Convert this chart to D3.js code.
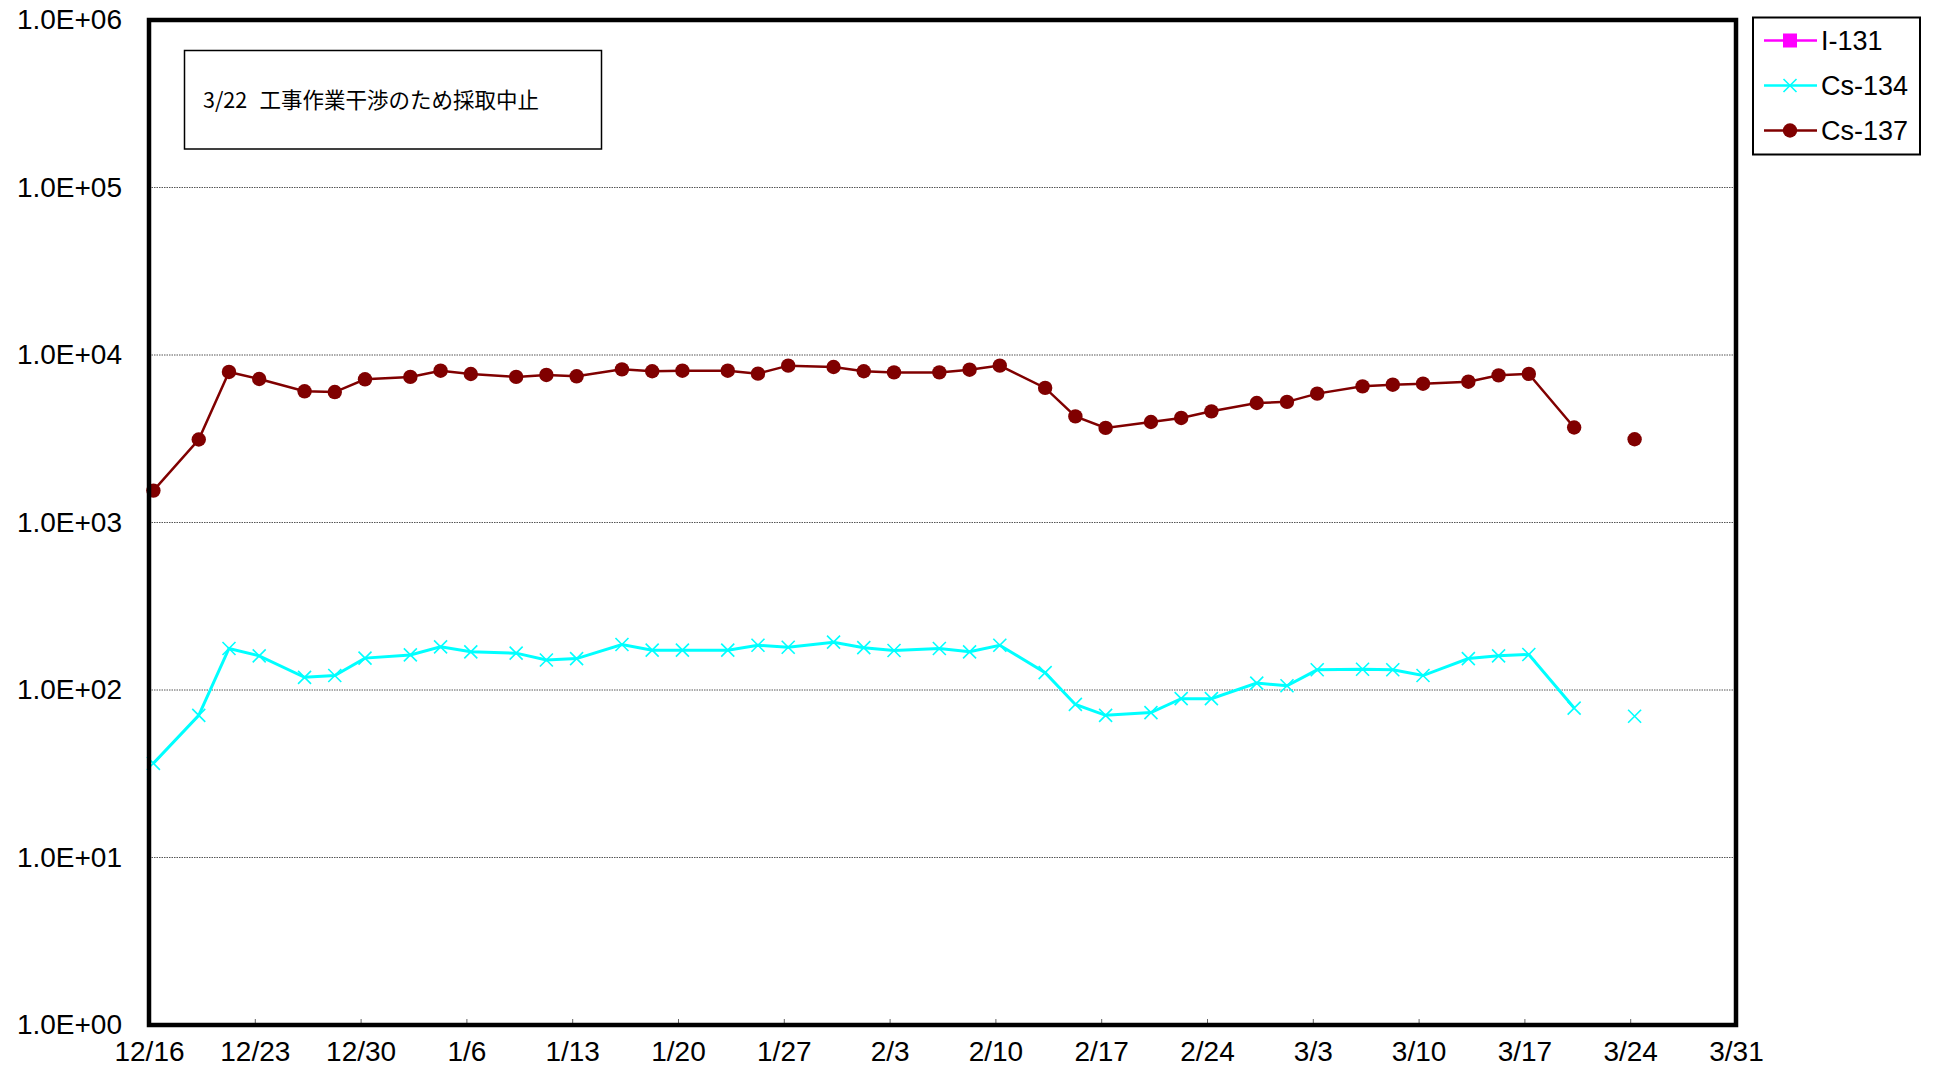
<!DOCTYPE html>
<html><head><meta charset="utf-8">
<script src="https://cdn.jsdelivr.net/npm/d3@7"></script>
<style>body{margin:0;background:#fff}svg{display:block}</style>
</head><body>
<svg id="c" width="1933" height="1081"></svg>
<script>
const sampleDates = ["2012-12-16","2012-12-19","2012-12-21","2012-12-23","2012-12-26","2012-12-28","2012-12-30",
"2013-01-02","2013-01-04","2013-01-06","2013-01-09","2013-01-11","2013-01-13","2013-01-16","2013-01-18","2013-01-20",
"2013-01-23","2013-01-25","2013-01-27","2013-01-30","2013-02-01","2013-02-03","2013-02-06","2013-02-08","2013-02-10",
"2013-02-13","2013-02-15","2013-02-17","2013-02-20","2013-02-22","2013-02-24","2013-02-27","2013-03-01","2013-03-03",
"2013-03-06","2013-03-08","2013-03-10","2013-03-13","2013-03-15","2013-03-17","2013-03-20","2013-03-22","2013-03-24"];
const sampleTime = "07:00";
const i131 = sampleDates.map(() => null); // not detected
const cs134 = [36.5,70.6,177,160,119,122,155,162,181,169,166,151,154,187,173,173,173,185,180,193,179,172,177,169,185,
127,82,70.6,73.3,88.8,88.8,110,106,132,133,132,122,154,160,163,78,null,69.7];
const cs137 = [1550,3130,7920,7190,6070,6010,7160,7400,8060,7700,7400,7600,7460,8210,8000,8060,8060,7740,8640,8480,8000,7870,7870,8170,8640,
6360,4300,3670,3980,4210,4610,5170,5250,5880,6500,6650,6740,6930,7560,7710,3690,null,3140];
const xTickDates = ["2012-12-16","2012-12-23","2012-12-30","2013-01-06","2013-01-13","2013-01-20","2013-01-27","2013-02-03",
"2013-02-10","2013-02-17","2013-02-24","2013-03-03","2013-03-10","2013-03-17","2013-03-24","2013-03-31"];
const yTicks = [1,10,100,1000,10000,100000,1000000];
const yTickLabels = ["1.0E+00","1.0E+01","1.0E+02","1.0E+03","1.0E+04","1.0E+05","1.0E+06"];
const seriesNames = ["I-131","Cs-134","Cs-137"];
const noteDate = "3/22";
const noteText = "工事作業干渉のため採取中止";

const parseDay = d3.timeParse("%Y-%m-%d");
const parseDT = d3.timeParse("%Y-%m-%d %H:%M");
const fmt = d3.timeFormat("%-m/%-d");

const L = 149, R = 1736, T = 20, B = 1025;
const svg = d3.select("#c");
const x = d3.scaleTime().domain([parseDay("2012-12-16"), parseDay("2013-03-31")]).range([L, R]);
const y = d3.scaleLog().domain([1, 1e6]).range([B, T]);

// gridlines
svg.append("g").selectAll("line").data(yTicks.slice(1, -1)).join("line")
  .attr("x1", L).attr("x2", R).attr("y1", d => y(d)).attr("y2", d => y(d))
  .attr("stroke", "#555").attr("stroke-width", 1).attr("stroke-dasharray", "1.5,1");

// y axis labels
const yAx = d3.axisLeft(y).tickValues(yTicks).tickFormat((d, i) => yTickLabels[i]).tickSize(0).tickPadding(27);
const gy = svg.append("g").attr("transform", `translate(${L},0)`).call(yAx);
gy.select(".domain").remove();
gy.selectAll("text").attr("font-family", "Liberation Sans, Arial, sans-serif").attr("font-size", 28).attr("fill", "#000");

// x axis
const xTicks = xTickDates.map(parseDay);
const xAx = d3.axisBottom(x).tickValues(xTicks).tickFormat(fmt).tickSize(-6).tickPadding(26);
const gx = svg.append("g").attr("transform", `translate(0,${B})`).call(xAx);
gx.select(".domain").remove();
gx.selectAll("line").attr("stroke", "#666").attr("stroke-width", 1);
gx.selectAll("text").attr("font-family", "Liberation Sans, Arial, sans-serif").attr("font-size", 28).attr("fill", "#000").attr("dy", "0.35em");

// data
const mk = arr => sampleDates.map((d, i) => ({t: parseDT(d + " " + sampleTime), v: arr[i]}));
const d134 = mk(cs134), d137 = mk(cs137);
const line = d3.line().defined(d => d.v != null).x(d => x(d.t)).y(d => y(d.v));

const plot = svg.append("g");
plot.append("path").datum(d137).attr("d", line).attr("fill", "none").attr("stroke", "#800000").attr("stroke-width", 2.5);
plot.append("g").selectAll("circle").data(d137.filter(d => d.v != null)).join("circle")
  .attr("cx", d => x(d.t)).attr("cy", d => y(d.v)).attr("r", 7.2).attr("fill", "#800000");

plot.append("path").datum(d134).attr("d", line).attr("fill", "none").attr("stroke", "#00FFFF").attr("stroke-width", 3);
const xs = 6.5;
plot.append("g").selectAll("path").data(d134.filter(d => d.v != null)).join("path")
  .attr("d", d => { const cx = x(d.t), cy = y(d.v); return `M${cx-xs},${cy-xs}L${cx+xs},${cy+xs}M${cx-xs},${cy+xs}L${cx+xs},${cy-xs}`; })
  .attr("stroke", "#00FFFF").attr("stroke-width", 1.6).attr("fill", "none");

// plot frame
svg.append("rect").attr("x", L).attr("y", T).attr("width", R - L).attr("height", B - T)
  .attr("fill", "none").attr("stroke", "#000").attr("stroke-width", 4.5);

// annotation box
svg.append("rect").attr("x", 184.5).attr("y", 50.5).attr("width", 417).attr("height", 98.5)
  .attr("fill", "#fff").attr("stroke", "#000").attr("stroke-width", 1.5);
const nt = svg.append("text").attr("y", 100).attr("dy", "0.35em")
  .attr("font-family", "Noto Sans CJK JP, sans-serif").attr("font-size", 21.5).attr("fill", "#000");
nt.append("tspan").attr("x", 203).text(noteDate);
nt.append("tspan").attr("x", 259.5).text(noteText);

// legend
const lg = svg.append("g");
lg.append("rect").attr("x", 1753).attr("y", 17.5).attr("width", 167).attr("height", 137)
  .attr("fill", "#fff").attr("stroke", "#000").attr("stroke-width", 2);
const colors = ["#FF00FF", "#00FFFF", "#800000"];
const rowsY = [40.5, 85.5, 130.5];
seriesNames.forEach((n, i) => {
  const g = lg.append("g").attr("transform", `translate(0,${rowsY[i]})`);
  g.append("line").attr("x1", 1764).attr("x2", 1817).attr("y1", 0).attr("y2", 0).attr("stroke", colors[i]).attr("stroke-width", 2.5);
  if (i === 0) g.append("rect").attr("x", 1790 - 7).attr("y", -7).attr("width", 14).attr("height", 14).attr("fill", colors[i]);
  if (i === 1) g.append("path").attr("d", `M${1790-xs},${-xs}L${1790+xs},${xs}M${1790-xs},${xs}L${1790+xs},${-xs}`).attr("stroke", colors[i]).attr("stroke-width", 1.6);
  if (i === 2) g.append("circle").attr("cx", 1790).attr("cy", 0).attr("r", 7.2).attr("fill", colors[i]);
  g.append("text").attr("x", 1821).attr("y", 0).attr("dy", "0.36em").attr("font-family", "Liberation Sans, Arial, sans-serif")
    .attr("font-size", 27).attr("fill", "#000").text(n);
});
</script>
</body></html>
